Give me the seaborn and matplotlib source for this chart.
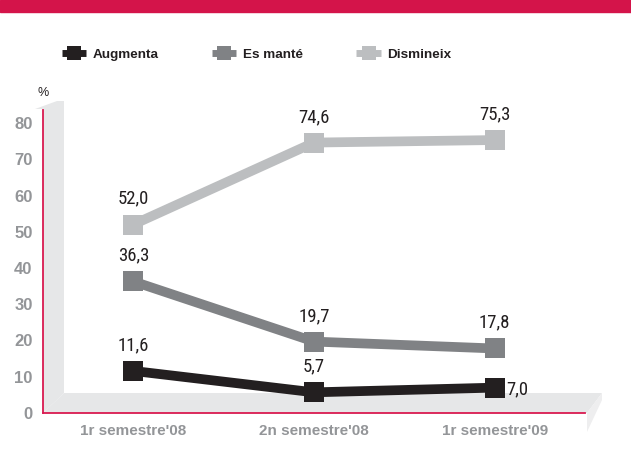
import pandas as pd
import matplotlib.pyplot as plt
import seaborn as sns
from matplotlib.patches import Polygon, Rectangle
from matplotlib.lines import Line2D
from matplotlib import font_manager

# data
periods = ["1r semestre'08", "2n semestre'08", "1r semestre'09"]
augmenta = [11.6, 5.7, 7.0]
es_mante = [36.3, 19.7, 17.8]
disminueix = [52.0, 74.6, 75.3]
series_names = ["Augmenta", "Es manté", "Dismineix"]

W, H = 631, 457
RED = "#d91a50"
DARK = "#231f20"
TICKGRAY = "#939598"
COLORS = {"Augmenta": "#231f20", "Es manté": "#808285", "Dismineix": "#bcbec0"}


def px(x, y):
    # pixel position -> figure fraction
    return (x / W, 1 - y / H)


def fmt(v):
    return f"{v:.1f}".replace(".", ",")


def narrow_font():
    # look for some condensed face for the value labels
    names = {f.name for f in font_manager.fontManager.ttflist}
    for n in ["Liberation Sans Narrow", "Arial Narrow", "Roboto Condensed",
              "DejaVu Sans Condensed", "Open Sans Condensed"]:
        if n in names:
            return n, "normal"
    return "DejaVu Sans", "condensed"


def main():
    sns.set_style("white")
    plt.rcParams["font.family"] = ["Liberation Sans", "DejaVu Sans"]

    df = pd.DataFrame({
        "periode": periods * 3,
        "valor": augmenta + es_mante + disminueix,
        "serie": [s for s in series_names for _ in periods],
    })

    fig = plt.figure(figsize=(W / 100, H / 100), dpi=100)
    ax = fig.add_axes([43 / W, (H - 413) / H, 542 / W, 303 / H])
    ax.patch.set_alpha(0)

    # red header band
    fig.patches.append(Rectangle((0, 1 - 12 / H), 1, 12 / H, transform=fig.transFigure,
                                 color="#d4144a", zorder=-1))

    # 3d-ish wall and floor
    wall = [(35, 109), (57, 101), (64, 101), (64, 393), (43, 413), (43, 109)]
    floor = [(43, 413), (64, 393), (602, 393), (587, 413)]
    side = [(587, 413), (602, 393), (602, 400), (587, 432)]
    for poly, col in [(wall, "#e6e7e8"), (floor, "#e6e7e8"), (side, "#eeeeef")]:
        ax.add_patch(Polygon([px(*p) for p in poly], closed=True, transform=fig.transFigure,
                             facecolor=col, edgecolor="none", zorder=0, clip_on=False))

    # draw light first so dark sits on top
    for name in ["Dismineix", "Es manté", "Augmenta"]:
        sub = df[df["serie"] == name]
        sns.lineplot(data=sub, x="periode", y="valor", ax=ax, color=COLORS[name],
                     linewidth=7, marker="s", markersize=14, markeredgewidth=0,
                     sort=False, legend=False, zorder=3, solid_joinstyle="miter")

    fam, stretch = narrow_font()
    lab_kw = dict(fontsize=13.5, color=DARK, family=[fam, "DejaVu Sans"],
                  fontstretch=stretch, zorder=5, textcoords="offset points")
    for vals in [augmenta, es_mante, disminueix]:
        for i, v in enumerate(vals):
            if vals is augmenta and i == 2:
                ax.annotate(fmt(v), (i, v), xytext=(8, -1), ha="left", va="center", **lab_kw)
            else:
                ax.annotate(fmt(v), (i, v), xytext=(0, 12), ha="center", va="bottom", **lab_kw)

    ax.set_xlim(-0.5, 2.5)
    ax.set_ylim(0, (413 - 110) / 3.625)
    ax.set_yticks(range(0, 81, 10))
    ax.set_yticklabels([str(t) for t in range(0, 81, 10)], fontweight="bold")
    ax.set_xticks([0, 1, 2])
    ax.set_xticklabels(periods, fontweight="bold")
    ax.set_xticks([-0.5, 0.5, 1.5, 2.5], minor=True)
    ax.set_xlabel("")
    ax.set_ylabel("")

    for s in ["top", "right"]:
        ax.spines[s].set_visible(False)
    for s in ["left", "bottom"]:
        ax.spines[s].set_color(RED)
        ax.spines[s].set_linewidth(1.3)
        ax.spines[s].set_zorder(4)

    ax.tick_params(axis="y", which="major", direction="out", length=6.5, width=1.2,
                   color=RED, pad=1, labelsize=12, labelcolor=TICKGRAY)
    ax.tick_params(axis="x", which="major", length=0, pad=8, labelsize=11, labelcolor=TICKGRAY)
    ax.tick_params(axis="x", which="minor", direction="out", length=5.5, width=1.2, color=RED)

    fig.text(*px(43, 93), "%", ha="center", va="center", fontsize=9, color=DARK)

    handles = [Line2D([], [], color=COLORS[n], linewidth=5, marker="s", markersize=10,
                      markeredgewidth=0, solid_capstyle="butt") for n in series_names]
    fig.legend(handles, series_names, loc="center left", bbox_to_anchor=px(62, 55),
               ncol=3, frameon=False, borderpad=0, borderaxespad=0, handlelength=1.8,
               handletextpad=0.45, columnspacing=4.0,
               prop={"weight": "bold", "size": 9.7})
    for t in fig.legends[0].get_texts():
        t.set_color(DARK)

    fig.savefig("out.png", dpi=100)


if __name__ == "__main__":
    main()
